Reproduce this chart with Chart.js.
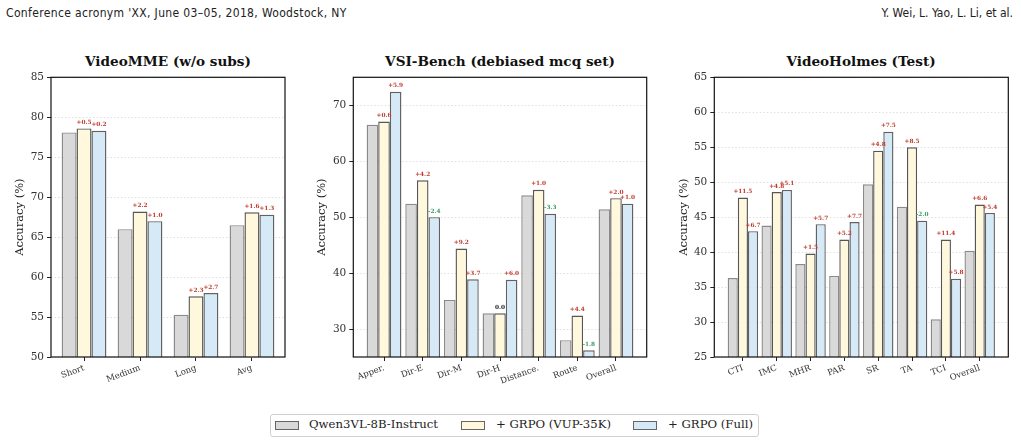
<!DOCTYPE html>
<html><head><meta charset="utf-8">
<script src="https://cdn.jsdelivr.net/npm/chart.js@4.4.1/dist/chart.umd.min.js"></script>
<style>
body{margin:0;width:1021px;height:443px;background:#fff;position:relative;overflow:hidden;font-family:"DejaVu Serif",serif}
.hdr{position:absolute;top:6px;font-family:"Liberation Sans Narrow","DejaVu Sans Condensed",sans-serif;font-size:12px;color:#222;white-space:nowrap}
.ttl{position:absolute;top:53px;font-weight:bold;font-size:13.6px;transform:translateX(-50%);white-space:nowrap;color:#111}
canvas{position:absolute;top:30px}
.lgd{position:absolute;left:270px;top:414px;width:487px;height:21px;border:1px solid #d0d0d0;border-radius:3px}
.sw{position:absolute;top:421px;width:22px;height:7px;border:1px solid #666}
.lt{position:absolute;top:417px;font-size:11.7px;color:#222;white-space:nowrap}
</style></head>
<body>
<div class="hdr" style="left:6px;letter-spacing:0.35px">Conference acronym 'XX, June 03–05, 2018, Woodstock, NY</div>
<div class="hdr" style="right:8px">Y. Wei, L. Yao, L. Li, et al.</div>
<div class="ttl" style="left:168px">VideoMME (w/o subs)</div>
<div class="ttl" style="left:500px">VSI-Bench (debiased mcq set)</div>
<div class="ttl" style="left:861px">VideoHolmes (Test)</div>
<canvas id="c1" width="300" height="380" style="left:0px;width:300px;height:380px"></canvas>
<canvas id="c2" width="360" height="380" style="left:300px;width:360px;height:380px"></canvas>
<canvas id="c3" width="361" height="380" style="left:660px;width:361px;height:380px"></canvas>
<div class="lgd"></div>
<div class="sw" style="left:275px;background:#d9d9d9"></div><div class="lt" style="left:309px" id="l0"></div>
<div class="sw" style="left:461px;background:#fff8dc"></div><div class="lt" style="left:496px" id="l1"></div>
<div class="sw" style="left:633px;background:#d6e9f7"></div><div class="lt" style="left:668px" id="l2"></div>
<script>
const seriesNames = ['Qwen3VL-8B-Instruct', '+ GRPO (VUP-35K)', '+ GRPO (Full)'];

const mmeCats = ['Short', 'Medium', 'Long', 'Avg'];
const mmeBase = [78.1, 66.0, 55.3, 66.5];
const mmeVup  = [78.6, 68.2, 57.6, 68.1];
const mmeFull = [78.3, 67.0, 58.0, 67.8];
const mmeTicks = [50, 55, 60, 65, 70, 75, 80, 85];

const vsiCats = ['Apper.', 'Dir-E', 'Dir-M', 'Dir-H', 'Distance.', 'Route', 'Overall'];
const vsiBase = [66.5, 52.4, 35.2, 32.8, 53.9, 28.0, 51.4];
const vsiVup  = [67.1, 56.6, 44.4, 32.8, 54.9, 32.4, 53.4];
const vsiFull = [72.4, 50.0, 38.9, 38.8, 50.6, 26.2, 52.4];
const vsiTicks = [30, 40, 50, 60, 70];

const holCats = ['CTI', 'IMC', 'MHR', 'PAR', 'SR', 'TA', 'TCI', 'Overall'];
const holBase = [36.3, 43.8, 38.3, 36.6, 49.7, 46.5, 30.4, 40.2];
const holVup  = [47.8, 48.6, 39.8, 41.8, 54.5, 55.0, 41.8, 46.8];
const holFull = [43.0, 48.9, 44.0, 44.3, 57.2, 44.5, 36.2, 45.6];
const holTicks = [25, 30, 35, 40, 45, 50, 55, 60, 65];

seriesNames.forEach((n, i) => document.getElementById('l' + i).textContent = n);

const fills = ['#d9d9d9', '#fff8dc', '#d6e9f7'];
const edges = ['rgba(60,60,60,0.6)', 'rgba(30,30,30,0.75)', 'rgba(30,30,30,0.7)'];

const deco = {
  id: 'deco',
  beforeDatasetsDraw(chart) {
    const {ctx, chartArea: a, scales: {y}} = chart;
    ctx.save();
    ctx.strokeStyle = '#d8d8d8';
    ctx.lineWidth = 0.8;
    ctx.setLineDash([1.5, 2]);
    y.ticks.forEach(t => {
      const py = Math.round(y.getPixelForValue(t.value)) + 0.5;
      ctx.beginPath(); ctx.moveTo(a.left, py); ctx.lineTo(a.right, py); ctx.stroke();
    });
    ctx.restore();
  },
  afterDatasetsDraw(chart) {
    const {ctx, chartArea: a} = chart;
    ctx.save();
    ctx.strokeStyle = '#111';
    ctx.lineWidth = 1.2;
    ctx.strokeRect(a.left, a.top, a.right - a.left, a.bottom - a.top);
    const base = chart.data.datasets[0].data;
    ctx.font = 'bold 5.8px "DejaVu Serif"';
    ctx.textAlign = 'center';
    ctx.textBaseline = 'bottom';
    [1, 2].forEach(di => {
      const meta = chart.getDatasetMeta(di);
      chart.data.datasets[di].data.forEach((p, i) => {
        const d = Math.round((p.y - base[i].y) * 10) / 10;
        let txt, col;
        if (d > 0) { txt = '+' + d.toFixed(1); col = '#c0392b'; }
        else if (d < 0) { txt = d.toFixed(1); col = '#3a9a66'; }
        else { txt = '0.0'; col = '#222'; }
        const el = meta.data[i];
        ctx.fillStyle = col;
        ctx.fillText(txt, el.x, el.y - 3);
      });
    });
    ctx.restore();
  }
};

function makeChart(id, cats, base, vup, full, yTicks, cfg) {
  const series = [base, vup, full];
  new Chart(document.getElementById(id), {
    type: 'bar',
    data: {
      datasets: series.map((s, k) => ({
        label: seriesNames[k],
        data: s.map((v, i) => ({x: i, y: v})),
        backgroundColor: fills[k],
        borderColor: edges[k],
        borderWidth: 1.4,
        borderSkipped: 'start',
        categoryPercentage: cfg.cp,
        barPercentage: 1.0
      }))
    },
    options: {
      responsive: false,
      animation: false,
      devicePixelRatio: 1,
      layout: {padding: {top: 47.3, left: 0, right: cfg.w - cfg.right, bottom: 380 - 327 - 45}},
      plugins: {legend: {display: false}, tooltip: {enabled: false}},
      scales: {
        x: {
          type: 'linear',
          offset: false,
          bounds: 'data',
          min: cfg.xmin, max: cfg.xmax,
          afterBuildTicks: s => { s.ticks = cats.map((c, i) => ({value: i})); },
          afterFit: s => { s.height = 45; },
          ticks: {
            callback: v => cats[v],
            autoSkip: false, maxRotation: 20, minRotation: 20,
            font: {family: 'DejaVu Serif', size: 8.5}, color: '#333', padding: 2
          },
          grid: {offset: false, drawOnChartArea: false, tickLength: 4, tickColor: '#222', tickWidth: 1},
          border: {display: false}
        },
        y: {
          type: 'linear',
          min: yTicks[0] - cfg.ylow, max: yTicks[yTicks.length - 1] + cfg.yhigh,
          afterBuildTicks: s => { s.ticks = yTicks.map(v => ({value: v})); },
          afterFit: s => { s.width = cfg.left; },
          ticks: {font: {family: 'DejaVu Serif', size: 10.5}, color: '#333', padding: 3},
          grid: {drawOnChartArea: false, tickLength: 4, tickColor: '#222', tickWidth: 1},
          border: {display: false},
          title: {display: true, text: 'Accuracy (%)', font: {family: 'DejaVu Serif', size: 11.5}, color: '#222', padding: {top: cfg.tpad, bottom: 0}}
        }
      }
    },
    plugins: [deco]
  });
}

makeChart('c1', mmeCats, mmeBase, mmeVup, mmeFull, mmeTicks,
  {w: 300, left: 51, right: 285, xmin: -0.59, xmax: 3.59, cp: 0.8, ylow: 0, yhigh: 0, tpad: 13});
makeChart('c2', vsiCats, vsiBase, vsiVup, vsiFull, vsiTicks,
  {w: 360, left: 53.3, right: 346.7, xmin: -0.795, xmax: 6.795, cp: 0.9, ylow: 5, yhigh: 5, tpad: 15});
makeChart('c3', holCats, holBase, holVup, holFull, holTicks,
  {w: 361, left: 54.3, right: 348.3, xmin: -0.845, xmax: 7.845, cp: 0.9, ylow: 0, yhigh: 0, tpad: 17});
</script>
</body></html>
